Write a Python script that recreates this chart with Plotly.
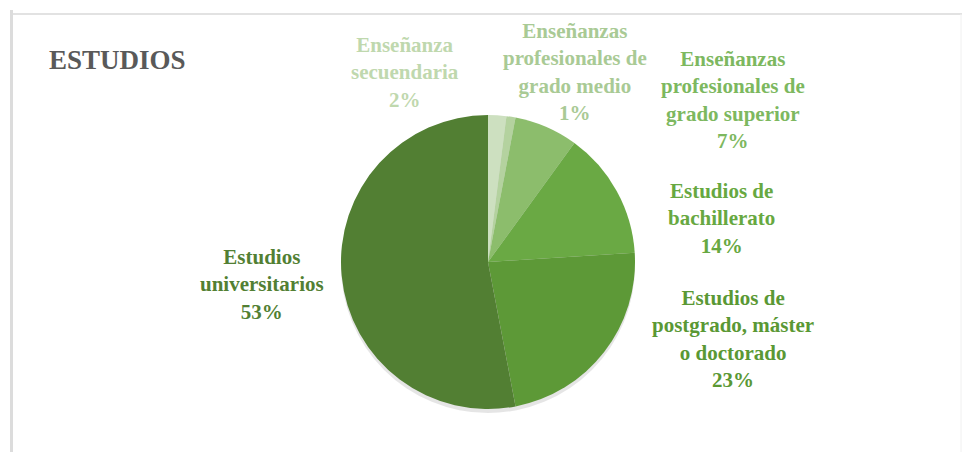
import plotly.graph_objects as go

# Data
categories = [
    "Enseñanza<br>secuendaria",
    "Enseñanzas<br>profesionales de<br>grado medio",
    "Enseñanzas<br>profesionales de<br>grado superior",
    "Estudios de<br>bachillerato",
    "Estudios de<br>postgrado, máster<br>o doctorado",
    "Estudios<br>universitarios",
]
percentages = [2, 1, 7, 14, 23, 53]

# Styles
slice_colors = ["#cde0c0", "#b4d29f", "#8cbd6c", "#6aa944", "#5d9937", "#527f33"]
label_colors = ["#bfd8ae", "#a9ca95", "#7db85f", "#67a841", "#5a9834", "#527f33"]
# label block centres in pixels (x, y from top)
label_pos = [(405, 72), (575, 72), (733, 100), (721, 218), (733, 339), (262, 284)]
FONT = "Liberation Serif"

W, H = 964, 452
cx, cy, r = 488, 262, 147

fig = go.Figure()
fig.add_trace(go.Pie(
    labels=categories,
    values=percentages,
    sort=False,
    direction="clockwise",
    rotation=0,
    marker=dict(colors=slice_colors, line=dict(width=0)),
    textinfo="none",
    hoverinfo="label+percent",
    showlegend=False,
    domain=dict(x=[(cx - r) / W, (cx + r) / W], y=[(H - cy - r) / H, (H - cy + r) / H]),
))

for cat, pct, col, (lx, ly) in zip(categories, percentages, label_colors, label_pos):
    fig.add_annotation(
        x=lx / W, y=1 - ly / H, xref="paper", yref="paper",
        text=f"<b>{cat}<br>{pct}%</b>", showarrow=False,
        font=dict(family=FONT, size=21, color=col),
        align="center", xanchor="center", yanchor="middle",
    )

fig.add_annotation(
    x=47 / W, y=1 - 60 / H, xref="paper", yref="paper",
    text="<b>ESTUDIOS</b>", showarrow=False,
    font=dict(family=FONT, size=27, color="#595959"),
    xanchor="left", yanchor="middle",
)

# soft shadow under the pie and the chart frame
fig.add_shape(type="circle", xref="paper", yref="paper", layer="below",
              x0=(cx - r) / W, x1=(cx + r) / W,
              y0=(H - cy - r - 4) / H, y1=(H - cy + r - 4) / H,
              fillcolor="rgba(0,0,0,0.10)", line=dict(width=0))
fig.add_shape(type="line", xref="paper", yref="paper", x0=10 / W, x1=962 / W,
              y0=1 - 14 / H, y1=1 - 14 / H, line=dict(color="#e2e2e2", width=2))
fig.add_shape(type="line", xref="paper", yref="paper", x0=11.5 / W, x1=11.5 / W,
              y0=0, y1=1 - 10 / H, line=dict(color="#dcdcdc", width=3))
fig.add_shape(type="line", xref="paper", yref="paper", x0=961 / W, x1=961 / W,
              y0=0, y1=1 - 14 / H, line=dict(color="#f0f0f0", width=1))

fig.update_layout(
    width=W, height=H,
    margin=dict(l=0, r=0, t=0, b=0),
    paper_bgcolor="white", plot_bgcolor="white",
)

fig.write_html("out.html")
